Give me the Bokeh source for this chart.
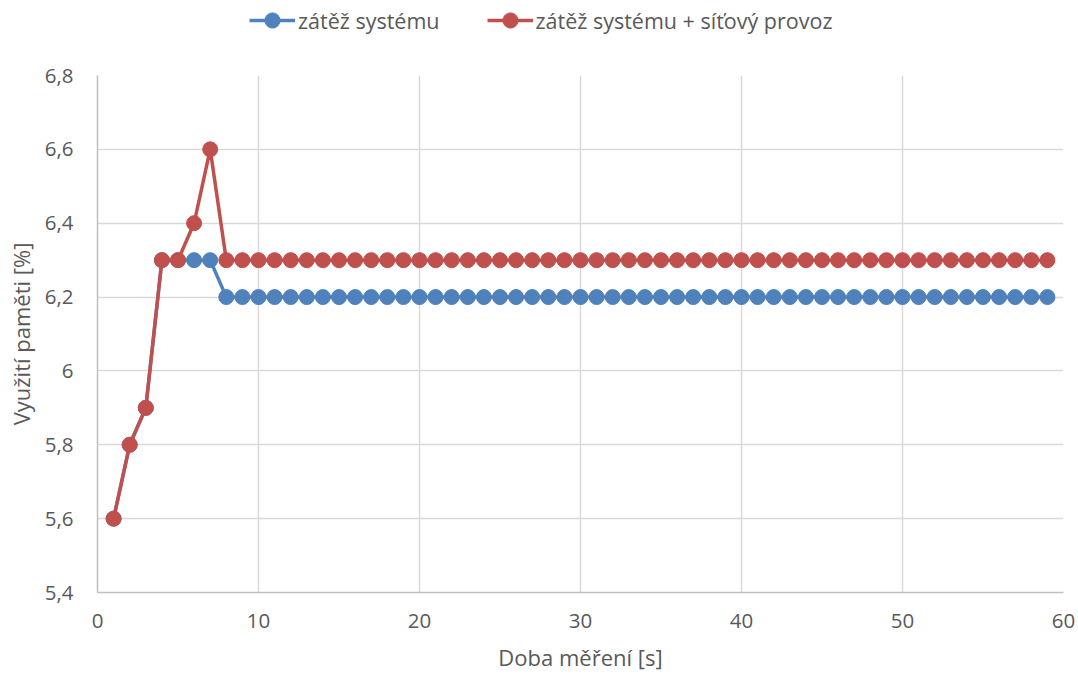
from bokeh.plotting import figure
from bokeh.layouts import column
from bokeh.models import (Range1d, FixedTicker, CustomJSTickFormatter, Legend, LegendItem)
from bokeh.embed import file_html
from bokeh.resources import INLINE

time_s = list(range(1, 60))
load_system = [5.6, 5.8, 5.9, 6.3, 6.3, 6.3, 6.3] + [6.2] * 52
load_network = [5.6, 5.8, 5.9, 6.3, 6.3, 6.4, 6.6] + [6.3] * 52
x_ticks = [0, 10, 20, 30, 40, 50, 60]
y_ticks = [5.4, 5.6, 5.8, 6.0, 6.2, 6.4, 6.6, 6.8]
series_names = ["zátěž systému", "zátěž systému + síťový provoz"]

BLUE = "#4F81BD"
RED = "#C0504D"
FONT = "Open Sans"
TXT = "#595959"

TOP_H = 57
p = figure(width=1078, height=675 - TOP_H, output_backend="svg", toolbar_location=None,
           x_range=Range1d(0, 60), y_range=Range1d(5.4, 6.8),
           min_border_left=97, min_border_right=15, min_border_top=75 - TOP_H,
           min_border_bottom=83)
p.outline_line_color = None
p.background_fill_color = "white"

p.line(time_s, load_system, line_color=BLUE, line_width=3.5)
p.scatter(time_s, load_system, size=15, fill_color=BLUE, line_color=BLUE)
p.line(time_s, load_network, line_color=RED, line_width=3.5)
p.scatter(time_s, load_network, size=15, fill_color=RED, line_color=RED)

fmt = CustomJSTickFormatter(code="""
if (Math.abs(tick - Math.round(tick)) < 1e-9) return String(Math.round(tick));
return tick.toFixed(1).replace('.', ',');
""")

for ax in (p.xaxis[0], p.yaxis[0]):
    ax.major_tick_line_color = None
    ax.minor_tick_line_color = None
    ax.axis_line_color = "#BFBFBF"
    ax.axis_line_width = 1.5
    ax.major_label_text_font = FONT
    ax.major_label_text_font_size = "20.5px"
    ax.major_label_text_color = TXT
    ax.axis_label_text_font = FONT
    ax.axis_label_text_font_size = "22px"
    ax.axis_label_text_font_style = "normal"
    ax.axis_label_text_color = TXT
    ax.formatter = fmt

p.xaxis[0].ticker = FixedTicker(ticks=x_ticks)
p.yaxis[0].ticker = FixedTicker(ticks=y_ticks)
p.xaxis[0].axis_label = "Doba měření [s]"
p.yaxis[0].axis_label = "Využití paměti [%]"
p.xaxis[0].major_label_standoff = 15
p.yaxis[0].major_label_standoff = 18
p.xaxis[0].axis_label_standoff = 11
p.yaxis[0].axis_label_standoff = 6

for g in (p.xgrid[0], p.ygrid[0]):
    g.grid_line_color = "#D9D9D9"
    g.grid_line_width = 1.5

# legend strip above the chart
top = figure(width=1078, height=TOP_H, output_backend="svg", toolbar_location=None,
             x_range=Range1d(0, 1078), y_range=Range1d(0, TOP_H),
             x_axis_type=None, y_axis_type=None,
             min_border_left=0, min_border_right=0, min_border_top=0, min_border_bottom=0)
top.outline_line_color = None
top.xgrid.visible = False
top.ygrid.visible = False
lb = top.line([-100, -90], [-100, -100], line_color=BLUE, line_width=3.5)
mb = top.scatter([-100], [-100], size=15, fill_color=BLUE, line_color=BLUE)
lr = top.line([-100, -90], [-100, -100], line_color=RED, line_width=3.5)
mr = top.scatter([-100], [-100], size=15, fill_color=RED, line_color=RED)

legend = Legend(items=[
    LegendItem(label=series_names[0], renderers=[lb, mb]),
    LegendItem(label=series_names[1], renderers=[lr, mr]),
], orientation="horizontal", location=(152, TOP_H - 39),
    glyph_width=46, glyph_height=38, label_standoff=3, spacing=47,
    label_text_font=FONT, label_text_font_size="21.5px", label_text_color=TXT,
    border_line_color=None, background_fill_alpha=0, padding=0, margin=0)
top.add_layout(legend, "center")

layout = column(top, p, spacing=0)
open("out.html", "w").write(file_html(layout, INLINE))
